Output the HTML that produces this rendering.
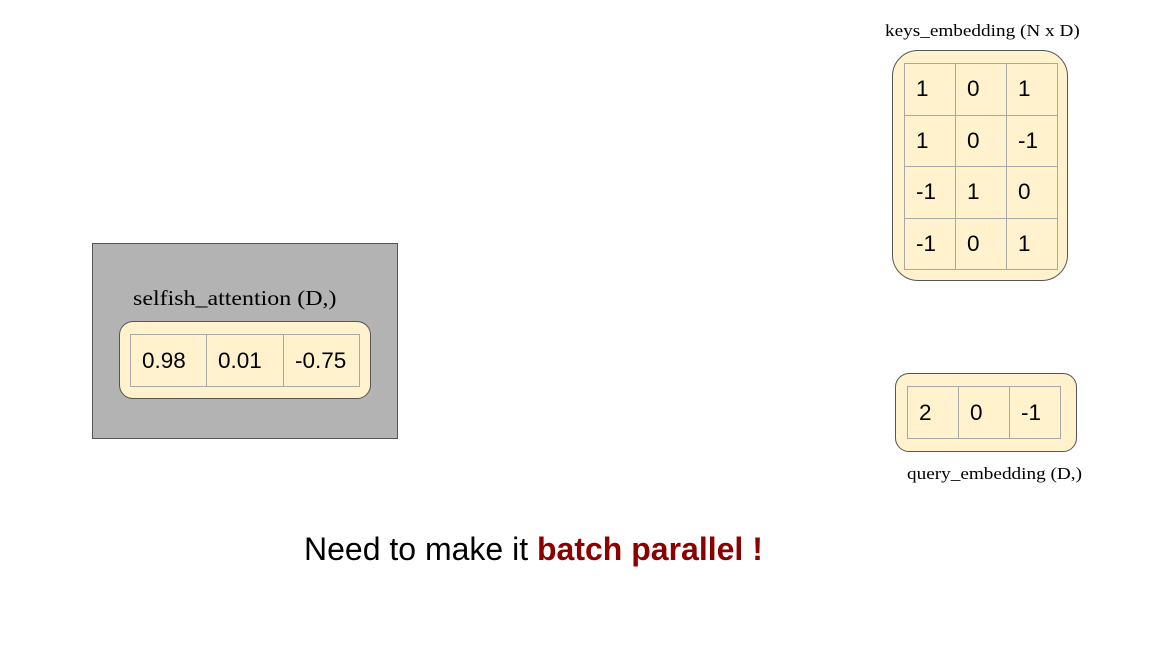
<!DOCTYPE html>
<html><head><style>
body{margin:0;width:1163px;height:654px;background:#fff;position:relative;overflow:hidden;font-family:"Liberation Sans",sans-serif}
.a{position:absolute}
.box{position:absolute;background:#fff2cc;border:1px solid #555;box-sizing:border-box}
table{position:absolute;border-collapse:collapse;background:#fff2cc}
td{border:1px solid #a8a8a8;padding:0 0 0 11px;font-size:22.5px;color:#000;box-sizing:border-box;vertical-align:middle}
.lab{position:absolute;font-family:"Liberation Serif",serif;white-space:nowrap;color:#000;transform-origin:0 0}
</style></head><body>
<div class="lab" style="left:885px;top:21px;font-size:17px;transform:scaleX(1.13)">keys_embedding (N x D)</div>
<div class="box" style="left:892px;top:50px;width:176px;height:231px;border-radius:26px"></div>
<table style="left:904px;top:63px;width:154px;height:207px">
<tr><td style="width:51px">1</td><td style="width:51px">0</td><td>1</td></tr>
<tr><td>1</td><td>0</td><td>-1</td></tr>
<tr><td>-1</td><td>1</td><td>0</td></tr>
<tr><td>-1</td><td>0</td><td>1</td></tr>
</table>

<div class="box" style="left:895px;top:373px;width:182px;height:79px;border-radius:14px"></div>
<table style="left:907px;top:386px;width:154px;height:53px">
<tr><td style="width:51px">2</td><td style="width:51px">0</td><td>-1</td></tr>
</table>
<div class="lab" style="left:907px;top:464px;font-size:17px;transform:scaleX(1.13)">query_embedding (D,)</div>

<div class="a" style="left:92px;top:243px;width:306px;height:196px;background:#b3b3b3;border:1px solid #555;box-sizing:border-box"></div>
<div class="lab" style="left:133px;top:286px;font-size:21px;transform:scaleX(1.14)">selfish_attention (D,)</div>
<div class="box" style="left:119px;top:321px;width:252px;height:78px;border-radius:14px"></div>
<table style="left:130px;top:334px;width:230px;height:53px">
<tr><td style="width:76px">0.98</td><td style="width:77px">0.01</td><td>-0.75</td></tr>
</table>

<div class="a" style="left:304px;top:531px;font-size:32px;white-space:nowrap">Need to make it <b style="color:#8b0000">batch parallel !</b></div>
</body></html>
